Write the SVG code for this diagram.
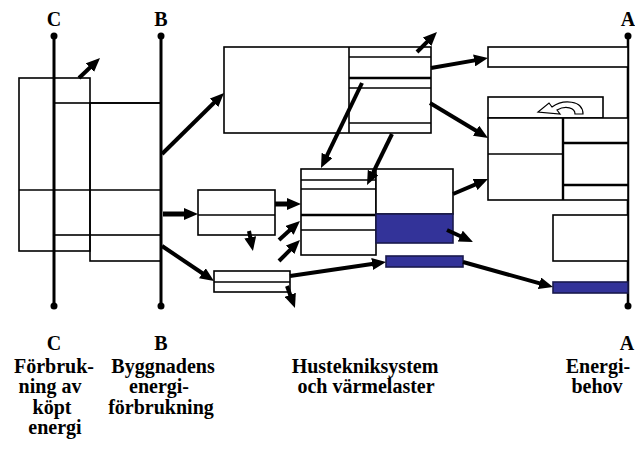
<svg xmlns="http://www.w3.org/2000/svg" width="635" height="457" viewBox="0 0 635 457">
<defs>
<style>
.lbl{font-family:"Liberation Serif","Times New Roman",serif;font-weight:bold;font-size:20px;fill:#000;text-anchor:middle}
.axis{stroke:#000;stroke-width:3;fill:none}
.bx{fill:#fff;stroke:#000;stroke-width:1.6}
.bn{fill:none;stroke:#000;stroke-width:1.6}
.ln{stroke:#000;stroke-width:1.6;fill:none}
.lt{stroke:#000;stroke-width:2.4;fill:none}
.blue{fill:#333399;stroke:#1a1a4d;stroke-width:1.6}
.arr{stroke:#000;stroke-width:4;fill:none;marker-end:url(#ah)}
</style>
<marker id="ah" markerWidth="14" markerHeight="12" refX="5" refY="6" orient="auto" markerUnits="userSpaceOnUse">
<path d="M0,0 L14,6 L0,12 z" fill="#000"/>
</marker>
</defs>
<rect width="635" height="457" fill="#fff"/>

<g id="axis-C">
<line class="axis" x1="54" y1="36" x2="54" y2="306"/>
<circle cx="54" cy="36" r="3.5"/><circle cx="54" cy="306" r="3.5"/>
<text class="lbl" x="54" y="26">C</text>
</g>
<g id="axis-B">
<line class="axis" x1="161" y1="36" x2="161" y2="306"/>
<circle cx="161" cy="36" r="3.5"/><circle cx="161" cy="306" r="3.5"/>
<text class="lbl" x="161" y="26">B</text>
</g>
<g id="axis-A">
<line class="axis" x1="628" y1="36" x2="628" y2="306" style="stroke-width:2.5"/>
<circle cx="628" cy="36" r="3.5"/><circle cx="628" cy="306" r="3.5"/>
<text class="lbl" x="628" y="26">A</text>
</g>

<g id="left-boxes">
<rect class="bn" x="19" y="78" width="71" height="173"/>
<rect class="bn" x="54" y="103" width="107" height="132"/>
<rect class="bn" x="90" y="103" width="71" height="158"/>
<line class="ln" x1="19" y1="190" x2="161" y2="190"/>
</g>

<g id="big-box">
<rect class="bx" x="224" y="47" width="207" height="86"/>
<line class="ln" x1="349" y1="47" x2="349" y2="133"/>
<line class="ln" x1="349" y1="57" x2="431" y2="57"/>
<line class="lt" x1="349" y1="78" x2="431" y2="78"/>
<line class="ln" x1="349" y1="88" x2="431" y2="88"/>
<line class="ln" x1="349" y1="123" x2="431" y2="123"/>
</g>

<g id="right-top-box">
<rect class="bx" x="488" y="47" width="140" height="20"/>
</g>

<g id="right-mid-box">
<rect class="bx" x="488" y="97" width="115" height="21"/>
<path d="M583,114 L575,114 C575,108 566,105 557,110 L560,114 L538,112 L549,103 L552,107 C563,99 583,100 583,114 Z" fill="#fff" stroke="#000" stroke-width="1.2"/>
<rect class="bx" x="488" y="118" width="140" height="82"/>
<line class="lt" x1="563" y1="118" x2="563" y2="200"/>
<line class="ln" x1="488" y1="154" x2="563" y2="154"/>
<line class="lt" x1="563" y1="143" x2="628" y2="143"/>
<line class="lt" x1="563" y1="185" x2="628" y2="185"/>
</g>

<g id="distribution-box">
<rect class="bx" x="198" y="190" width="77" height="45"/>
<line class="ln" x1="198" y1="215" x2="275" y2="215"/>
</g>

<g id="system-box">
<rect class="bx" x="301" y="169" width="75" height="86"/>
<line class="ln" x1="301" y1="180" x2="376" y2="180"/>
<line class="ln" x1="301" y1="189" x2="376" y2="189"/>
<line class="lt" x1="301" y1="215" x2="376" y2="215"/>
<line class="ln" x1="301" y1="230" x2="376" y2="230"/>
<rect class="bx" x="376" y="169" width="77" height="45"/>
<rect class="blue" x="376" y="214" width="77" height="29"/>
</g>

<g id="small-box">
<rect class="bx" x="214" y="271" width="76" height="21"/>
<line class="ln" x1="214" y1="282" x2="290" y2="282"/>
</g>

<g id="blue-small">
<rect class="blue" x="386" y="256" width="77" height="11"/>
</g>

<g id="right-empty-box">
<rect class="bx" x="553" y="215" width="75" height="46"/>
</g>

<g id="blue-right">
<rect class="blue" x="553" y="282" width="75" height="11"/>
</g>

<g id="connectors">
<line class="arr" x1="79" y1="78" x2="93.5" y2="64.2"/>
<line class="arr" x1="162" y1="154" x2="217.6" y2="99.3"/>
<line class="arr" x1="417" y1="52" x2="430.6" y2="38.4"/>
<line class="arr" x1="431" y1="68" x2="479.1" y2="59.6"/>
<line class="arr" x1="430" y1="103" x2="480.3" y2="133.3"/>
<line class="arr" x1="362" y1="83" x2="324.9" y2="159.9"/>
<line class="arr" x1="392" y1="134" x2="371" y2="176.9"/>
<line class="arr" x1="163" y1="214" x2="189" y2="214" style="stroke-width:5"/>
<line class="arr" x1="275" y1="204" x2="292" y2="204" style="stroke-width:5"/>
<line class="arr" x1="249" y1="231" x2="251.2" y2="242.2"/>
<line class="arr" x1="279" y1="240" x2="293.3" y2="227.0"/>
<line class="arr" x1="279" y1="261" x2="293.6" y2="246.4"/>
<line class="arr" x1="162" y1="246" x2="206.5" y2="276"/>
<line class="arr" x1="287" y1="286" x2="291.9" y2="299.5"/>
<line class="arr" x1="290" y1="276" x2="377.1" y2="263.3"/>
<line class="arr" x1="463" y1="262" x2="544.3" y2="284.6"/>
<line class="arr" x1="447" y1="230" x2="464.8" y2="238.2"/>
<line class="arr" x1="453" y1="194" x2="479.7" y2="182.6"/>
</g>

<g id="labels">
<text class="lbl" x="54" y="350">C</text>
<text class="lbl" x="54" y="373">Förbruk-</text>
<text class="lbl" x="50" y="393">ning av</text>
<text class="lbl" x="52" y="414">köpt</text>
<text class="lbl" x="55" y="434">energi</text>
<text class="lbl" x="161" y="350">B</text>
<text class="lbl" x="163" y="373">Byggnadens</text>
<text class="lbl" x="159" y="393">energi-</text>
<text class="lbl" x="161" y="414">förbrukning</text>
<text class="lbl" x="365" y="373">Hustekniksystem</text>
<text class="lbl" x="366" y="393">och värmelaster</text>
<text class="lbl" x="627" y="350">A</text>
<text class="lbl" x="598" y="373">Energi-</text>
<text class="lbl" x="597" y="393">behov</text>
</g>
</svg>
